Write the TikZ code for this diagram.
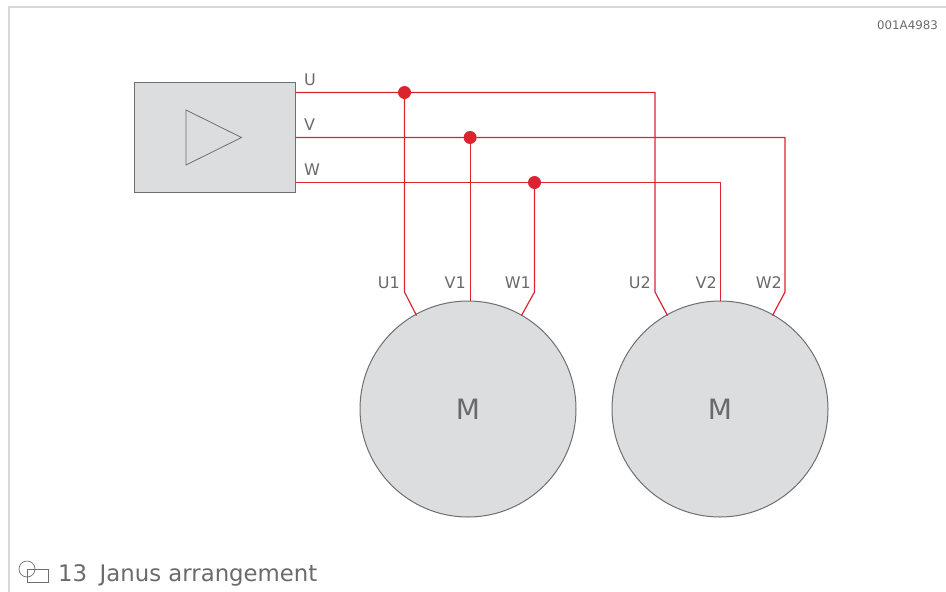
\documentclass[tikz,border=0pt]{standalone}
\usepackage{fontspec}
\setmainfont{DejaVu Sans}
\definecolor{wirered}{RGB}{218,37,48}
\definecolor{bodygray}{RGB}{220,221,223}
\definecolor{edgegray}{RGB}{110,111,113}
\definecolor{textgray}{RGB}{105,106,108}
\definecolor{framegray}{RGB}{216,216,216}
\tikzset{
  wire/.style={draw=wirered,line width=1.2pt},
  tag/.style={text=textgray,font=\fontsize{16}{18}\selectfont,inner sep=0pt},
  junction/.style={circle,fill=wirered,minimum size=13pt,inner sep=0pt},
  motor/.style={circle,draw=edgegray,fill=bodygray,line width=1pt,minimum size=216pt,inner sep=0pt,text=textgray,font=\fontsize{28}{32}\selectfont}
}
\begin{document}
\begin{tikzpicture}[x=1pt,y=-1pt]
\useasboundingbox (0,0) rectangle (946,592);

% Frame
\draw[framegray,line width=2pt] (8.5,592) -- (8.5,6.5) -- (946,6.5);
\node[tag,anchor=east,font=\fontsize{11.8}{13}\selectfont] (code) at (938,25) {001A4983};

% Amplifier
\node[draw=edgegray,fill=bodygray,line width=1pt,minimum width=161pt,minimum height=110pt,inner sep=0pt] (amp) at (215,137.5) {};
\draw[edgegray,line width=0.8pt] (186,110) -- (241.5,137.5) -- (186,165) -- cycle;

% Motors
\node[motor] (m1) at (468,409) {M};
\node[motor] (m2) at (720,409) {M};

% Wire points
\coordinate (u0) at (295.5,92.5);
\coordinate (v0) at (295.5,137.5);
\coordinate (w0) at (295.5,182.5);
\coordinate (u2top) at (655,92.5);
\coordinate (v2top) at (785,137.5);
\coordinate (w2top) at (720.5,182.5);
\coordinate (u1bend) at (404.5,292);
\coordinate (w1bend) at (534.5,292);
\coordinate (u2bend) at (655,292);
\coordinate (w2bend) at (785,292);
\coordinate (u1end) at (416.5,315.5);
\coordinate (w1end) at (521.5,315.5);
\coordinate (u2end) at (667.5,315.5);
\coordinate (w2end) at (772.5,315.5);
\coordinate (v1end) at (470.1,301);
\coordinate (v2end) at (720.5,301);

% Junctions
\node[junction] (ju) at (404.5,92.5) {};
\node[junction] (jv) at (470.1,137.5) {};
\node[junction] (jw) at (534.5,182.5) {};

% Wires
\draw[wire] (u0) -- (u2top) -- (u2bend) -- (u2end);
\draw[wire] (v0) -- (v2top) -- (w2bend) -- (w2end);
\draw[wire] (w0) -- (w2top) -- (v2end);
\draw[wire] (ju.center) -- (u1bend) -- (u1end);
\draw[wire] (jv.center) -- (v1end);
\draw[wire] (jw.center) -- (w1bend) -- (w1end);

% Labels
\node[tag,anchor=base west] (lu) at (304,85) {U};
\node[tag,anchor=base west] (lv) at (304,130) {V};
\node[tag,anchor=base west] (lw) at (304,175) {W};
\node[tag,anchor=base east] (lu1) at (400,288) {U1};
\node[tag,anchor=base east] (lv1) at (466,288) {V1};
\node[tag,anchor=base east] (lw1) at (531,288) {W1};
\node[tag,anchor=base east] (lu2) at (651,288) {U2};
\node[tag,anchor=base east] (lv2) at (717,288) {V2};
\node[tag,anchor=base east] (lw2) at (782,288) {W2};

% Caption
\draw[edgegray,line width=0.7pt] (27,569) circle (8pt);
\draw[edgegray,line width=0.7pt] (27,569) rectangle (48,582);
\node[tag,anchor=base west,font=\fontsize{22.8}{28}\selectfont] (caption) at (58,581) {13\hspace{0.55em}Janus arrangement};
\end{tikzpicture}
\end{document}
